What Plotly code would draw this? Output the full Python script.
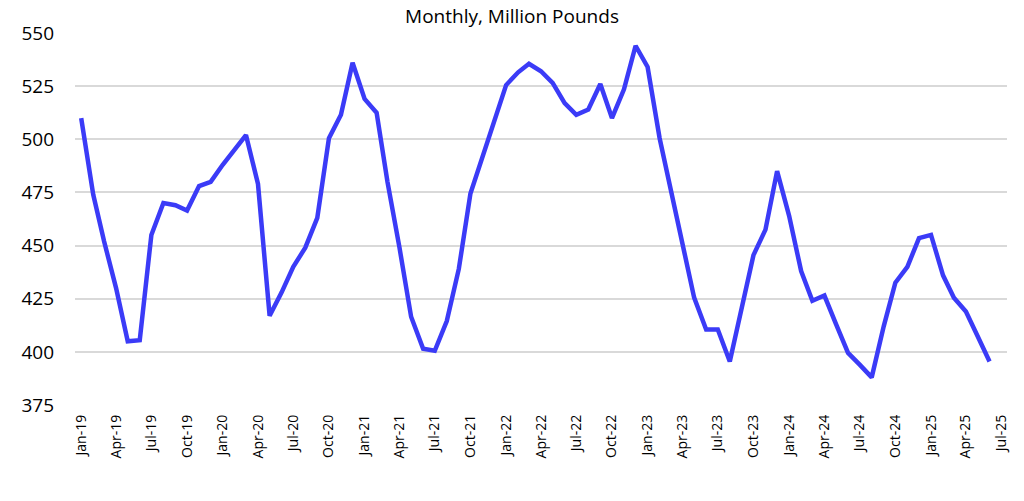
import pandas as pd
import plotly.graph_objects as go

# ── DATA ──────────────────────────────────────────────────────────────────────
months = pd.date_range("2019-01-01", "2025-06-01", freq="MS")

values = [
    510, 474, 452, 430, 405, 405.5, 455, 470, 469, 466.5, 478, 480,   # 2019
    488, 495, 502, 479, 417, 428, 440, 449, 463, 500.5, 511.5, 536,   # 2020
    519, 512.5, 480, 449, 416.5, 401.5, 400.5, 414.5, 439, 474.5, 492, 508,  # 2021
    525.5, 531.5, 535.5, 532, 526.5, 517, 511.5, 514, 526, 510, 523.5, 544,  # 2022
    534, 500.5, 477.5, 452.5, 425.5, 410.5, 410.5, 395.5, 422, 445.5, 457.5, 485,  # 2023
    464, 438, 424, 426.5, 413, 399.5, 394, 388, 412, 432.5, 440, 453.5,  # 2024
    455, 436, 425.5, 419, 407.5, 395.5,  # 2025
]

tick_dates = pd.date_range("2019-01-01", "2025-07-01", freq="3MS")
tick_labels = [d.strftime("%b-%y") for d in tick_dates]

LINE_COLOR = "#3b3bf7"
GRID_COLOR = "#d9d9d9"
FONT = "Open Sans, Liberation Sans, sans-serif"

# ── FIGURE ────────────────────────────────────────────────────────────────────
fig = go.Figure(
    go.Scatter(
        x=months,
        y=values,
        mode="lines",
        line=dict(color=LINE_COLOR, width=4.5),
        hovertemplate="%{x|%b-%y}: %{y:.1f}<extra></extra>",
    )
)

fig.update_layout(
    width=1024,
    height=501,
    title=dict(
        text="Monthly, Million Pounds",
        font=dict(family=FONT, size=19, color="#000"),
        x=0.5,
        xanchor="center",
        y=0.968,
        yanchor="middle",
    ),
    paper_bgcolor="white",
    plot_bgcolor="white",
    showlegend=False,
    margin=dict(l=75, r=17, t=33, b=96),
    xaxis=dict(
        range=["2018-12-16", "2025-07-16"],
        tickvals=tick_dates,
        ticktext=tick_labels,
        tickangle=-90,
        tickfont=dict(family=FONT, size=14, color="#000"),
        showgrid=False,
        zeroline=False,
        showline=False,
        ticks="",
        ticklabelstandoff=6,
    ),
    yaxis=dict(
        range=[375, 550],
        tickvals=[375, 400, 425, 450, 475, 500, 525, 550],
        tickfont=dict(family=FONT, size=19, color="#000"),
        gridcolor=GRID_COLOR,
        gridwidth=1.5,
        zeroline=False,
        showline=False,
        ticks="",
        ticklabelstandoff=20,
    ),
)

# drop the page's default body margin so the figure sits at the window corner
fig.write_html(
    "out.html",
    config={"displayModeBar": False},
    post_script="document.body.style.margin='0';",
)
